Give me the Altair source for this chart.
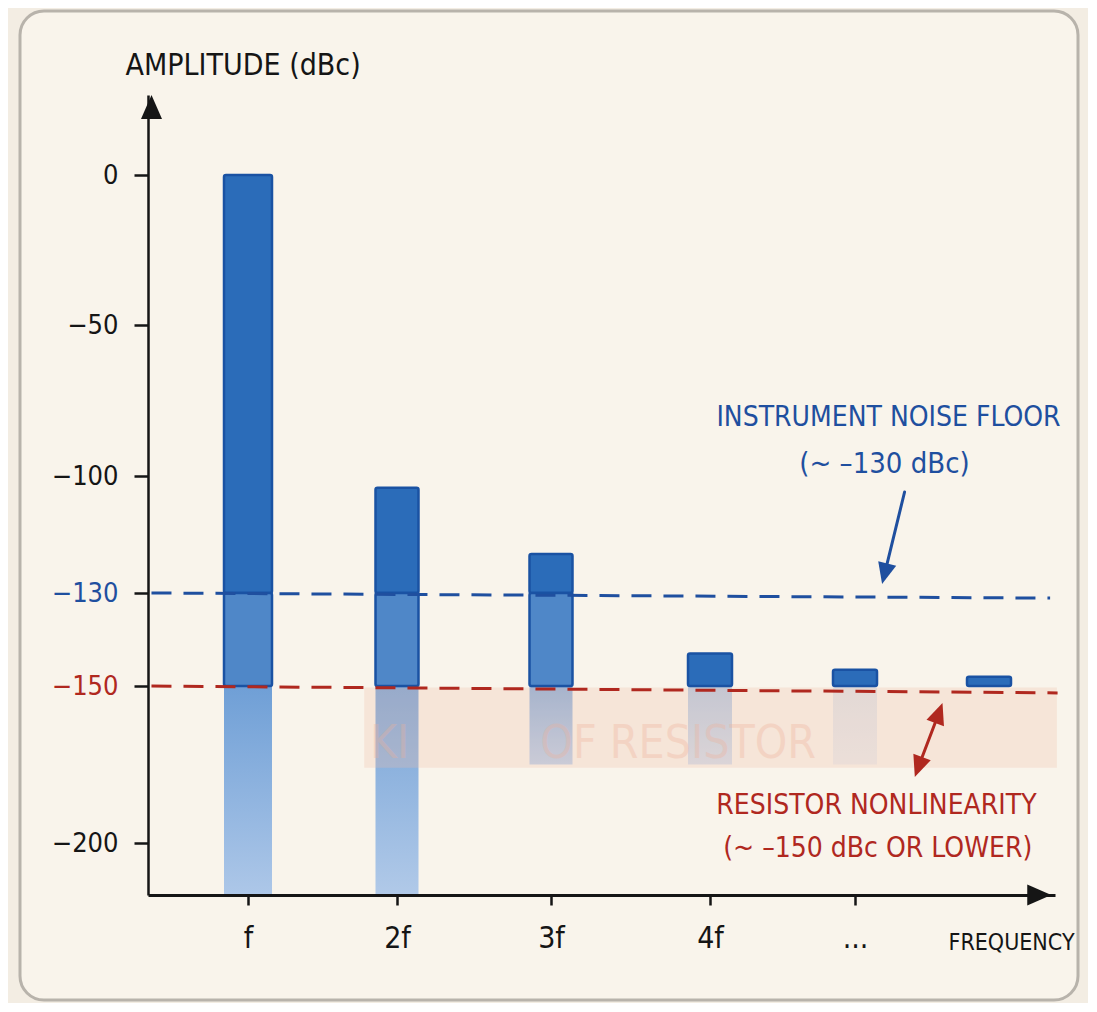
import altair as alt
import pandas as pd

# ---------------- data ----------------
harmonic = [1, 2, 3, 4, 5, 6]
amplitude_dbc = [0, -103, -120, -143, -146.5, -148]
harmonic_labels = ["f", "2f", "3f", "4f", "...", ""]
faded_to_dbc = [-216, -216, -175, -175, -175, -150]
fade_opacity = [1.0, 0.95, 0.8, 0.5, 0.2, 0.0]
bar_px = [48, 43, 43, 44, 44, 44]

noise_floor_dbc = -130
resistor_floor_dbc = -150
y_tick_values = [0, -50, -100, -130, -150, -200]
x_tick_values = [1, 2, 3, 4, 5]

# annotation texts and anchors (harmonic units, dBc)
note_text = ["INSTRUMENT NOISE FLOOR", "(~ \u2013130 dBc)",
             "RESISTOR NONLINEARITY", "(~ \u2013150 dBc OR LOWER)"]
note_x = [5.25, 5.22, 5.16, 5.17]
note_y = [-80.8, -96.0, -188.2, -201.8]
note_size = [28, 29, 28, 28]
note_kind = ["noise", "noise", "resistor", "resistor"]

# floor lines (slightly hand-drawn slope)
floor_y_start = [-130, -150]
floor_y_end = [-131.1, -152.2]
floor_x_end = [6.45, 6.505]
floor_kind = ["noise", "resistor"]

# arrows
arrow_x = [5.37, 5.619]
arrow_y = [-104.1, -159.4]
arrow_x2 = [5.226, 5.48]
arrow_y2 = [-124.4, -175.0]
arrow_kind = ["noise", "resistor"]
head_x = [5.226, 5.619, 5.48]
head_y = [-124.4, -159.4, -175.0]
head_dir = ["down", "up", "down"]
head_angle = [14, 20, 20]
head_kind = ["noise", "resistor", "resistor"]

# faint ghost lettering in the hatched band
ghost_text = ["OF RESISTOR", "KI"]
ghost_x = [3.8, 1.95]
ghost_y = [-168.5, -168.5]

# ---------------- style ----------------
FONT = "DejaVu Sans Condensed, DejaVu Sans, sans-serif"
INK = "#151515"
BLUE = "#1f4f9f"
RED = "#b0281f"
BAR_DARK = "#2b6cb9"
BAR_MID = "#4f87c8"
BAR_EDGE = "#1a52a3"
BG = "#f3ede3"
PANEL = "#f9f4eb"
KIND_COLOR = {"noise": BLUE, "resistor": RED}
ARROW_PATH = {"up": "M0,-1 L0.7,0.6 L-0.7,0.6 Z",
              "down": "M0,1 L0.7,-0.6 L-0.7,-0.6 Z",
              "right": "M1,0 L-0.6,0.7 L-0.6,-0.7 Z"}

# piecewise scales reproduce the hand-drawn spacing of the reference axes
Y_SCALE = alt.Scale(domain=[-216, -200, -150, -130, -100, -50, 0, 27],
                    range=[800, 748, 591, 498, 381, 230, 80, 0],
                    nice=False, zero=False)
X_SCALE = alt.Scale(domain=[0, 1, 2, 3, 4, 5, 6, 6.45],
                    range=[0, 100, 249, 403, 562, 707, 841, 907],
                    nice=False, zero=False)

# ---------------- tables ----------------
seg_rows, low_rows = [], []
for h, a, fl, op, w in zip(harmonic, amplitude_dbc, faded_to_dbc, fade_opacity, bar_px):
    if a > noise_floor_dbc:
        seg_rows.append(dict(h=h, top=a, bottom=noise_floor_dbc, fill=BAR_DARK, w=w))
        seg_rows.append(dict(h=h, top=noise_floor_dbc, bottom=resistor_floor_dbc, fill=BAR_MID, w=w))
    elif a > resistor_floor_dbc:
        seg_rows.append(dict(h=h, top=a, bottom=resistor_floor_dbc, fill=BAR_DARK, w=w))
    if fl < resistor_floor_dbc and op > 0:
        low_rows.append(dict(h=h, top=resistor_floor_dbc, bottom=fl, op=op, w=w))
seg_df = pd.DataFrame(seg_rows)
low_df = pd.DataFrame(low_rows)

notes_df = pd.DataFrame(dict(t=note_text, x=note_x, y=note_y, fs=note_size,
                             c=[KIND_COLOR[k] for k in note_kind]))
floor_df = pd.DataFrame(dict(x=[0, 0], x2=floor_x_end, y=floor_y_start, y2=floor_y_end,
                             c=[KIND_COLOR[k] for k in floor_kind]))
arrow_df = pd.DataFrame(dict(x=arrow_x, y=arrow_y, x2=arrow_x2, y2=arrow_y2,
                             c=[KIND_COLOR[k] for k in arrow_kind]))
head_df = pd.DataFrame(dict(x=head_x, y=head_y, s=[ARROW_PATH[d] for d in head_dir],
                            a=head_angle, c=[KIND_COLOR[k] for k in head_kind]))
ghost_df = pd.DataFrame(dict(t=ghost_text, x=ghost_x, y=ghost_y))
band_df = pd.DataFrame(dict(x=[1.78], x2=[6.5], y=[resistor_floor_dbc - 0.5], y2=[-176]))
axis_tip_df = pd.DataFrame(dict(x=[0, 6.348], y=[21.9, -216],
                                s=[ARROW_PATH["up"], ARROW_PATH["right"]]))
one = pd.DataFrame({"k": [0]})

label_expr = " : ".join(
    f"datum.value == {v} ? '{l}'" for v, l in zip(harmonic, harmonic_labels)
) + " : ''"

x_axis = alt.Axis(values=x_tick_values, labelExpr=label_expr, title="FREQUENCY",
                  titleX=800, titleY=47, titleAlign="left", titleBaseline="middle",
                  titleFont=FONT, titleFontSize=23, titleFontWeight="normal", titleColor=INK,
                  labelFont=FONT, labelFontSize=30, labelColor=INK, labelBaseline="middle",
                  labelPadding=33, tickSize=10, tickWidth=2.5, tickColor=INK,
                  domainColor=INK, domainWidth=3, grid=False, labelFlush=False, zindex=2)
y_axis = alt.Axis(values=y_tick_values, format="d", title="AMPLITUDE (dBc)",
                  titleAngle=0, titleX=-23, titleY=-30, titleAlign="left",
                  titleBaseline="middle", titleFont=FONT, titleFontSize=30,
                  titleFontWeight="normal", titleColor=INK,
                  labelFont=FONT, labelFontSize=27, labelPadding=16,
                  labelColor={"condition": [{"test": "datum.value == -130", "value": BLUE},
                                            {"test": "datum.value == -150", "value": RED}],
                              "value": INK},
                  tickSize=14, tickWidth=2.5, tickColor=INK,
                  domainColor=INK, domainWidth=2.5, grid=False, labelFlush=False, zindex=2)


def X(field):
    return alt.X(field, type="quantitative", scale=X_SCALE, axis=x_axis)


def Y(field):
    return alt.Y(field, type="quantitative", scale=Y_SCALE, axis=y_axis)


# ---------------- layers ----------------
panel = alt.Chart(one).mark_rect(cornerRadius=24, fill=PANEL, stroke="#b8b3ab",
                                 strokeWidth=3).encode(
    x=alt.value(-128), x2=alt.value(930), y=alt.value(-84), y2=alt.value(905))

lower = alt.Chart(low_df).mark_bar(
    color=alt.Gradient(gradient="linear",
                       stops=[alt.GradientStop(color="#6f9fd6", offset=0),
                              alt.GradientStop(color="#adc7e8", offset=1)],
                       x1=0, x2=0, y1=0, y2=1)
).encode(
    x=X("h"), y=Y("top"), y2="bottom:Q",
    size=alt.Size("w:Q", scale=None, legend=None),
    opacity=alt.Opacity("op:Q", scale=None, legend=None))

band = alt.Chart(band_df).mark_rect(fill="#f2bfa8", opacity=0.28).encode(
    x=X("x"), x2="x2:Q", y=Y("y"), y2="y2:Q")

ghost = alt.Chart(ghost_df).mark_text(font=FONT, fontSize=46, color="#efb099",
                                      opacity=0.32).encode(
    x=X("x"), y=Y("y"), text="t:N")

bars = alt.Chart(seg_df).mark_bar(stroke=BAR_EDGE, strokeWidth=2.5, cornerRadius=2).encode(
    x=X("h"), y=Y("top"), y2="bottom:Q",
    size=alt.Size("w:Q", scale=None, legend=None),
    color=alt.Color("fill:N", scale=None, legend=None))

floors = alt.Chart(floor_df).mark_rule(strokeWidth=3, strokeDash=[20, 12]).encode(
    x=X("x"), x2="x2:Q", y=Y("y"), y2="y2:Q",
    color=alt.Color("c:N", scale=None, legend=None))

arrows = alt.Chart(arrow_df).mark_rule(strokeWidth=3, strokeCap="round").encode(
    x=X("x"), x2="x2:Q", y=Y("y"), y2="y2:Q",
    color=alt.Color("c:N", scale=None, legend=None))

heads = alt.Chart(head_df).mark_point(filled=True, size=700, opacity=1).encode(
    x=X("x"), y=Y("y"),
    shape=alt.Shape("s:N", scale=None, legend=None),
    angle=alt.Angle("a:Q", scale=None, legend=None),
    color=alt.Color("c:N", scale=None, legend=None))

notes = alt.Chart(notes_df).mark_text(font=FONT, baseline="middle").encode(
    x=X("x"), y=Y("y"), text="t:N",
    size=alt.Size("fs:Q", scale=None, legend=None),
    color=alt.Color("c:N", scale=None, legend=None))

axis_tips = alt.Chart(axis_tip_df).mark_point(filled=True, size=900, color=INK,
                                              opacity=1).encode(
    x=X("x"), y=Y("y"), shape=alt.Shape("s:N", scale=None, legend=None))

chart = alt.layer(
    panel, lower, band, ghost, bars, floors, arrows, heads, notes, axis_tips
).properties(
    width=907, height=800,
    padding={"left": 140, "top": 87, "right": 33, "bottom": 108},
    autosize=alt.AutoSizeParams(type="none"),
    background=BG,
).configure_view(stroke=None)

chart.save("out.html", embed_options={"renderer": "svg", "actions": False})
